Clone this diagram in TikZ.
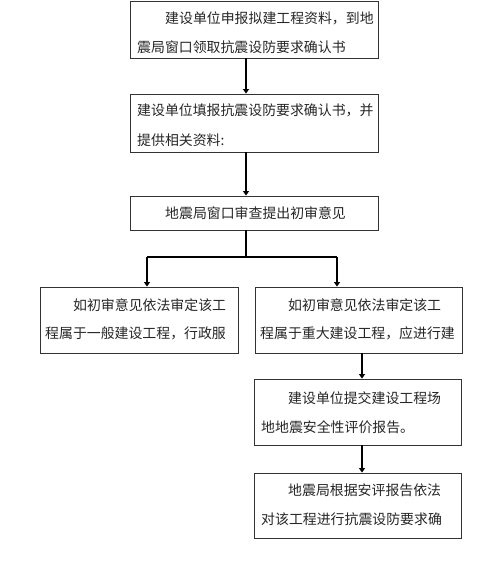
\documentclass[tikz,border=0pt]{standalone}
\usepackage{fontspec}
\setmainfont{Noto Sans CJK SC}
\usetikzlibrary{arrows.meta}
\begin{document}
\begin{tikzpicture}[x=1pt,y=-1pt,
  box/.style={draw=black!80,line width=0.9pt,fill=white,inner sep=0pt},
  txt/.style={anchor=west,inner sep=0pt,font=\fontsize{13.9}{15}\selectfont,text=black!85},
  arr/.style={line width=1.5pt,-{Triangle[length=4.5pt,width=6pt]}},
  ln/.style={line width=1.5pt}]
\useasboundingbox[fill=white] (0,0) rectangle (500,566);
% boxes
\node[box,minimum width=248pt,minimum height=57pt] (b1) at (254,29.5) {};
\node[box,minimum width=248pt,minimum height=58pt] (b2) at (254,123) {};
\node[box,minimum width=248pt,minimum height=34pt] (b3) at (254,213) {};
\node[box,minimum width=198pt,minimum height=66pt] (bL) at (139,320) {};
\node[box,minimum width=207pt,minimum height=66pt] (bR) at (358.5,320) {};
\node[box,minimum width=207pt,minimum height=66pt] (b4) at (357.5,412) {};
\node[box,minimum width=207pt,minimum height=65pt] (b5) at (357.5,505.5) {};
% texts
\node[txt] (t1a) at (165,18) {建设单位申报拟建工程资料，到地};
\node[txt] (t1b) at (137,47) {震局窗口领取抗震设防要求确认书};
\node[txt] (t2a) at (137,110) {建设单位填报抗震设防要求确认书，并};
\node[txt] (t2b) at (137,140) {提供相关资料:};
\node[txt] (t3) at (165,213) {地震局窗口审查提出初审意见};
\node[txt] (tLa) at (73,305) {如初审意见依法审定该工};
\node[txt] (tLb) at (45,333) {程属于一般建设工程，行政服};
\node[txt] (tRa) at (288,305) {如初审意见依法审定该工};
\node[txt] (tRb) at (260,333) {程属于重大建设工程，应进行建};
\node[txt] (t4a) at (288,398) {建设单位提交建设工程场};
\node[txt] (t4b) at (261,427) {地地震安全性评价报告。};
\node[txt] (t5a) at (288,490) {地震局根据安评报告依法};
\node[txt] (t5b) at (261,519) {对该工程进行抗震设防要求确};
% connectors
\coordinate (ax) at (246,0);
\coordinate (j) at (246,257);
\coordinate (jl) at (147,257);
\coordinate (jr) at (337,257);
\coordinate (rx) at (362,0);
\draw[arr] (b1.south -| ax) -- (b2.north -| ax);
\draw[arr] (b2.south -| ax) -- (b3.north -| ax);
\draw[ln] (b3.south -| ax) -- (j);
\draw[ln] (jl) -- (jr);
\draw[arr] (jl) -- (bL.north -| jl);
\draw[arr] (jr) -- (bR.north -| jr);
\draw[arr] (bR.south -| rx) -- (b4.north -| rx);
\draw[arr] (b4.south -| rx) -- (b5.north -| rx);
\end{tikzpicture}
\end{document}
